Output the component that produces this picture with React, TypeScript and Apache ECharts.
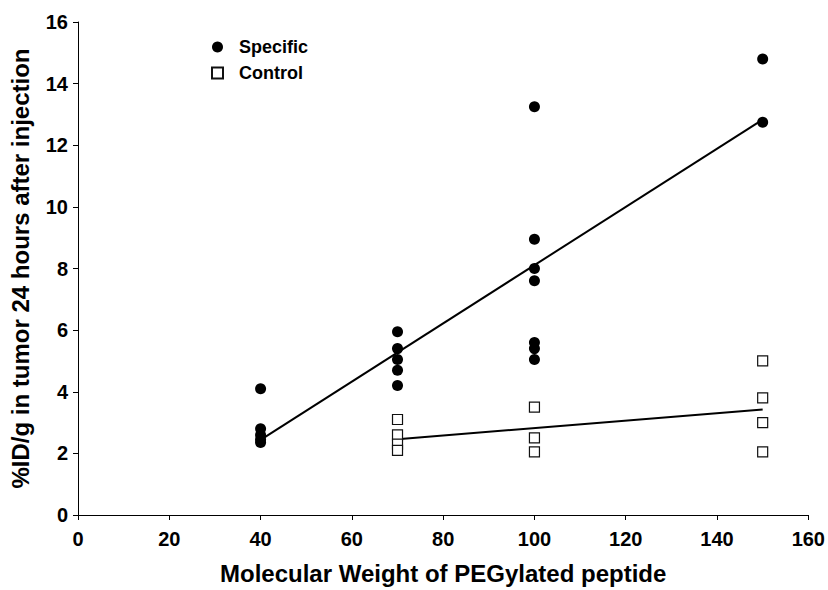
import React, { useEffect, useRef } from "react";
import * as echarts from "echarts";

const specificX = [40, 40, 40, 40, 40, 70, 70, 70, 70, 70, 100, 100, 100, 100, 100, 100, 100, 150, 150];
const specificY = [4.1, 2.8, 2.6, 2.45, 2.35, 5.95, 5.4, 5.05, 4.7, 4.2, 13.25, 8.95, 8.0, 7.6, 5.6, 5.4, 5.05, 14.8, 12.75];
const controlX = [70, 70, 70, 70, 100, 100, 100, 150, 150, 150, 150];
const controlY = [3.1, 2.6, 2.3, 2.1, 3.5, 2.5, 2.05, 5.0, 3.8, 3.0, 2.05];

const xTicks = [0, 20, 40, 60, 80, 100, 120, 140, 160];
const yTicks = [0, 2, 4, 6, 8, 10, 12, 14, 16];

const xTitle = "Molecular Weight of PEGylated peptide";
const yTitle = "%ID/g in tumor 24 hours after injection";
const seriesNames = ["Specific", "Control"];

function fitLine(xs: number[], ys: number[]): number[][] {
  const n = xs.length;
  const mx = xs.reduce((a, b) => a + b, 0) / n;
  const my = ys.reduce((a, b) => a + b, 0) / n;
  let sxy = 0;
  let sxx = 0;
  for (let i = 0; i < n; i++) {
    sxy += (xs[i] - mx) * (ys[i] - my);
    sxx += (xs[i] - mx) * (xs[i] - mx);
  }
  const slope = sxy / sxx;
  const icpt = my - slope * mx;
  const x0 = Math.min(...xs);
  const x1 = Math.max(...xs);
  return [
    [x0, icpt + slope * x0],
    [x1, icpt + slope * x1],
  ];
}

const FONT = "'Liberation Sans', Arial, sans-serif";

export default function App() {
  const ref = useRef<HTMLDivElement>(null);
  useEffect(() => {
    if (!ref.current) return;
    const chart = echarts.init(ref.current, null, { renderer: "svg" });
    const specificPts = specificX.map((x, i) => [x, specificY[i]]);
    const controlPts = controlX.map((x, i) => [x, controlY[i]]);
    chart.setOption({
      animation: false,
      backgroundColor: "#ffffff",
      textStyle: { fontFamily: FONT },
      legend: {
        data: [
          { name: seriesNames[0], icon: "circle" },
          { name: seriesNames[1], icon: "rect" },
        ],
        orient: "vertical",
        left: 206,
        top: 33,
        itemWidth: 11,
        itemHeight: 11,
        itemGap: 8,
        textStyle: {
          fontFamily: FONT,
          fontWeight: "bold",
          fontSize: 18,
          color: "#000",
          padding: [0, 0, 0, 11],
        },
      },
      grid: { left: 78, right: 10, top: 22, bottom: 71, containLabel: false },
      xAxis: {
        type: "value",
        min: xTicks[0],
        max: xTicks[xTicks.length - 1],
        interval: 20,
        name: xTitle,
        nameLocation: "middle",
        nameGap: 46,
        nameTextStyle: { fontFamily: FONT, fontWeight: "bold", fontSize: 24, color: "#000" },
        axisLine: { lineStyle: { color: "#000", width: 1 } },
        axisTick: { show: true, inside: false, length: 5, lineStyle: { color: "#000" } },
        axisLabel: { margin: 14, fontFamily: FONT, fontWeight: "bold", fontSize: 20, color: "#000" },
        splitLine: { show: false },
      },
      yAxis: {
        type: "value",
        min: yTicks[0],
        max: yTicks[yTicks.length - 1],
        interval: 2,
        name: yTitle,
        nameLocation: "middle",
        nameGap: 46,
        nameTextStyle: { fontFamily: FONT, fontWeight: "bold", fontSize: 24, color: "#000" },
        axisLine: { show: true, lineStyle: { color: "#000", width: 1 } },
        axisTick: { show: true, inside: false, length: 5, lineStyle: { color: "#000" } },
        axisLabel: { margin: 10, fontFamily: FONT, fontWeight: "bold", fontSize: 20, color: "#000" },
        splitLine: { show: false },
      },
      series: [
        {
          name: seriesNames[0],
          type: "scatter",
          data: specificPts,
          symbol: "circle",
          symbolSize: 11,
          itemStyle: { color: "#000", opacity: 1 },
          z: 3,
        },
        {
          name: seriesNames[1],
          type: "scatter",
          data: controlPts,
          symbol: "rect",
          symbolSize: 10,
          itemStyle: { color: "#fff", borderColor: "#111", borderWidth: 1.2, opacity: 1 },
          z: 3,
        },
        {
          name: "SpecificFit",
          type: "line",
          data: fitLine(specificX, specificY),
          showSymbol: false,
          symbol: "none",
          lineStyle: { color: "#000", width: 2 },
          z: 2,
        },
        {
          name: "ControlFit",
          type: "line",
          data: fitLine(controlX, controlY),
          showSymbol: false,
          symbol: "none",
          lineStyle: { color: "#000", width: 2 },
          z: 2,
        },
      ],
    });
    return () => chart.dispose();
  }, []);
  return (
    <div
      ref={ref}
      style={{ position: "fixed", left: 0, top: 0, width: 828, height: 590 }}
    />
  );
}
